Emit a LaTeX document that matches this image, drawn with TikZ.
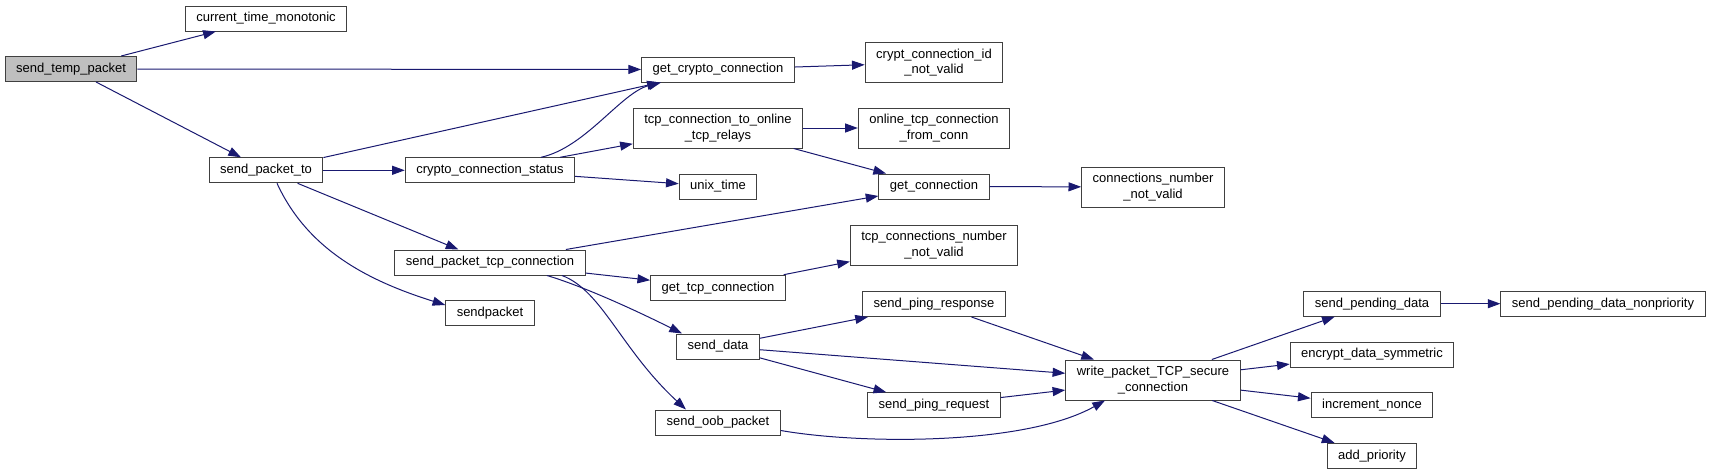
\documentclass[tikz,border=0pt]{standalone}
\usepackage{fontspec}
\setmainfont{Liberation Sans}
\usepackage{tikz}
\usetikzlibrary{arrows.meta}
\definecolor{callblue}{HTML}{191970}
\definecolor{rootgray}{HTML}{BFBFBF}

\begin{document}
\begin{tikzpicture}[
  x=0.75pt, y=-0.75pt,
  fn/.style={draw=black!75, line width=0.75pt, fill=white, inner xsep=8.25pt, inner ysep=0pt,
             minimum height=18.75pt, font=\fontsize{9.75}{11.8}\selectfont, align=center},
  fn2/.style={fn, minimum height=30pt},
  call/.style={-{Triangle[length=9.5pt,width=6.75pt]}, draw=callblue, line width=0.75pt}
]
  \useasboundingbox (0,0) rectangle (1709,475);

  % caller
  \node[fn, fill=rootgray] (stp) at (71,69) {send\_temp\_packet};

  % first level
  \node[fn] (ctm) at (266,18.5) {current\_time\_monotonic};
  \node[fn] (spt) at (266,170.3) {send\_packet\_to};

  % second level
  \node[fn] (ccs)  at (490,170.3) {crypto\_connection\_status};
  \node[fn] (sptc) at (490,262.5) {send\_packet\_tcp\_connection};
  \node[fn] (sp)   at (490,313) {sendpacket};

  % third level
  \node[fn]  (gcc) at (718,69.5) {get\_crypto\_connection};
  \node[fn2] (tco) at (718,128) {tcp\_connection\_to\_online\\\_tcp\_relays};
  \node[fn]  (ut)  at (718,186.5) {unix\_time};
  \node[fn]  (gtc) at (718,287.7) {get\_tcp\_connection};
  \node[fn]  (sd)  at (718,346.5) {send\_data};
  \node[fn]  (sob) at (718,422.5) {send\_oob\_packet};

  % fourth level
  \node[fn2] (cnv)  at (934,62.5) {crypt\_connection\_id\\\_not\_valid};
  \node[fn2] (otc)  at (934,128) {online\_tcp\_connection\\\_from\_conn};
  \node[fn]  (gc)   at (934,186.5) {get\_connection};
  \node[fn2] (tnv)  at (934,245) {tcp\_connections\_number\\\_not\_valid};
  \node[fn]  (spr)  at (934,304) {send\_ping\_response};
  \node[fn]  (sprq) at (934,405.2) {send\_ping\_request};

  % fifth level
  \node[fn2] (cnn) at (1153,187) {connections\_number\\\_not\_valid};
  \node[fn2] (wp)  at (1153,380) {write\_packet\_TCP\_secure\\\_connection};

  % sixth and seventh level
  \node[fn] (spd)  at (1372,303.7) {send\_pending\_data};
  \node[fn] (eds)  at (1372,354.5) {encrypt\_data\_symmetric};
  \node[fn] (inc)  at (1372,405.3) {increment\_nonce};
  \node[fn] (ap)   at (1372,455.8) {add\_priority};
  \node[fn] (spdn) at (1603,303.7) {send\_pending\_data\_nonpriority};

  % straight calls
  \foreach \a/\b in {stp/ctm, stp/gcc, stp/spt, spt/gcc, spt/ccs, spt/sptc,
                     ccs/tco, ccs/ut, gcc/cnv, tco/otc, tco/gc, gc/cnn,
                     sptc/gc, sptc/gtc, gtc/tnv, sd/spr, sd/wp, sd/sprq,
                     spr/wp, sprq/wp, wp/spd, wp/eds, wp/inc, wp/ap, spd/spdn}
    \draw[call] (\a) -- (\b);

  % curved calls
  \draw[call] ([shift={(11,0)}]spt.south) .. controls +(30,65) and +(-80,-25) .. ([shift={(0,-8)}]sp.west);
  \draw[call] ([shift={(51,0)}]ccs.north) .. controls +(45,-10) and +(-40,10) .. ([shift={(-57,0)}]gcc.south);
  \draw[call] ([shift={(57,0)}]sptc.south) .. controls +(40,12) and +(-40,-20) .. ([shift={(-36,0)}]sd.north);
  \draw[call] ([shift={(72,0)}]sptc.south) .. controls +(40,15) and +(-65,-60) .. ([shift={(-32,0)}]sob.north);
  \draw[call] ([shift={(0,8)}]sob.east) .. controls +(80,14) and +(-80,45) .. ([shift={(-48,0)}]wp.south);
\end{tikzpicture}
\end{document}
